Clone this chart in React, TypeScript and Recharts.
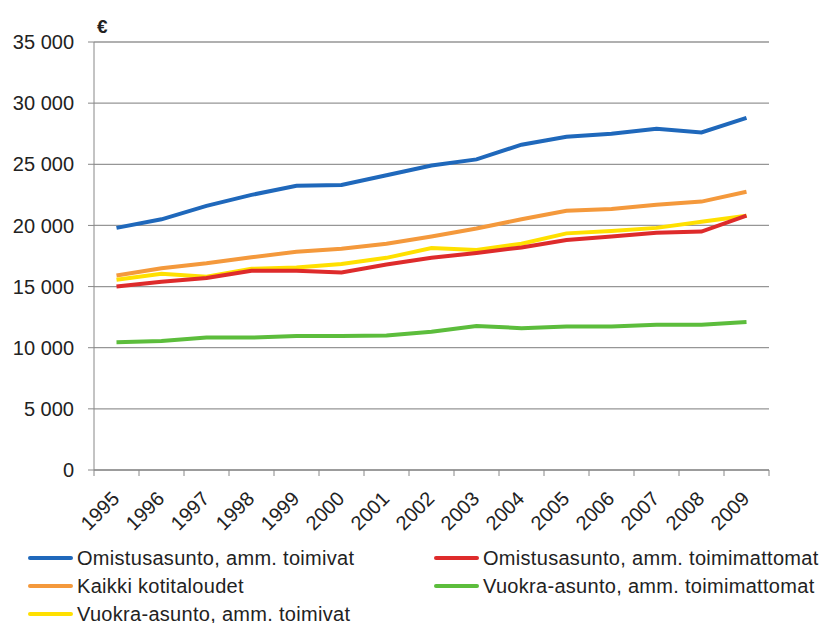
import { LineChart, Line, XAxis, YAxis, CartesianGrid } from 'recharts';

const years = ['1995', '1996', '1997', '1998', '1999', '2000', '2001', '2002', '2003', '2004', '2005', '2006', '2007', '2008', '2009'];

const omistusToimivat = [19800, 20500, 21600, 22500, 23250, 23300, 24100, 24900, 25400, 26600, 27250, 27500, 27900, 27600, 28800];
const omistusToimimattomat = [15000, 15400, 15700, 16300, 16300, 16150, 16800, 17350, 17750, 18200, 18800, 19100, 19400, 19500, 20800];
const kaikki = [15900, 16500, 16900, 17400, 17850, 18100, 18500, 19100, 19750, 20500, 21200, 21350, 21700, 21950, 22750];
const vuokraToimimattomat = [10450, 10550, 10830, 10830, 10960, 10960, 11000, 11300, 11780, 11600, 11730, 11730, 11870, 11870, 12110];
const vuokraToimivat = [15550, 16050, 15800, 16450, 16550, 16850, 17350, 18150, 18000, 18500, 19350, 19550, 19800, 20300, 20800];

const yTicks = [0, 5000, 10000, 15000, 20000, 25000, 30000, 35000];

const series = [
  { key: 'omistusToimivat', name: 'Omistusasunto, amm. toimivat', color: '#1f68bb', values: omistusToimivat },
  { key: 'omistusToimimattomat', name: 'Omistusasunto, amm. toimimattomat', color: '#de2b2b', values: omistusToimimattomat },
  { key: 'kaikki', name: 'Kaikki kotitaloudet', color: '#f4993c', values: kaikki },
  { key: 'vuokraToimimattomat', name: 'Vuokra-asunto, amm. toimimattomat', color: '#5cbd3c', values: vuokraToimimattomat },
  { key: 'vuokraToimivat', name: 'Vuokra-asunto, amm. toimivat', color: '#ffe000', values: vuokraToimivat },
];

// line drawing order: blue, orange, yellow, red, green (red sits over yellow)
const drawOrder = ['omistusToimivat', 'kaikki', 'vuokraToimivat', 'omistusToimimattomat', 'vuokraToimimattomat'];

const data = years.map((year, i) => {
  const row: Record<string, number | string> = { x: i + 0.5, year };
  series.forEach(s => { row[s.key] = s.values[i]; });
  return row;
});

// integer ticks = category borders (tick marks), half ticks = category centres (year labels)
const xTicks: number[] = [];
for (let i = 0; i <= years.length; i++) {
  xTicks.push(i);
  if (i < years.length) xTicks.push(i + 0.5);
}

const font = '"Liberation Sans", Arial, sans-serif';
const textColor = '#222';
const axisColor = '#888';

const formatThousands = (v: number) => v.toLocaleString('en-US').replace(/,/g, ' ');

const XTick = ({ x, y, payload }: any) => {
  const v = payload.value as number;
  if (Number.isInteger(v)) {
    return <line x1={x} y1={y} x2={x} y2={y + 6} stroke={axisColor} />;
  }
  return (
    <g transform={`translate(${x + 4},${y + 30})`}>
      <text textAnchor="end" transform="rotate(-45)" fontSize={20} fill={textColor} fontFamily={font}>
        {years[Math.floor(v)]}
      </text>
    </g>
  );
};

export default function App() {
  return (
    <div style={{ position: 'relative', width: 821, height: 615, fontFamily: font }}>
      <span style={{ position: 'absolute', left: 89, top: 8, fontSize: 19, fontWeight: 'bold', color: textColor }}>€</span>
      <LineChart
        width={821}
        height={540}
        data={data}
        margin={{ top: 34, right: 60, left: 6, bottom: 18 }}
      >
        <CartesianGrid vertical={false} stroke="#969696" strokeWidth={1.3} />
        <XAxis
          type="number"
          dataKey="x"
          domain={[0, years.length]}
          ticks={xTicks}
          tick={<XTick />}
          tickLine={false}
          tickSize={0}
          tickMargin={0}
          axisLine={{ stroke: axisColor }}
          interval={0}
          height={60}
        />
        <YAxis
          domain={[0, 35000]}
          ticks={yTicks}
          tickFormatter={formatThousands}
          width={80}
          tickSize={6}
          tickMargin={14}
          tickLine={{ stroke: axisColor }}
          axisLine={{ stroke: axisColor }}
          tick={{ fill: textColor, fontSize: 20, fontFamily: font }}
        />
        {drawOrder.map(k => {
          const s = series.find(d => d.key === k)!;
          return (
            <Line
              key={s.key}
              type="linear"
              dataKey={s.key}
              name={s.name}
              stroke={s.color}
              strokeWidth={4}
              dot={false}
              activeDot={false}
              isAnimationActive={false}
            />
          );
        })}
      </LineChart>
      <div
        style={{
          position: 'absolute',
          left: 20,
          top: 536,
          display: 'grid',
          gridTemplateColumns: '406px 400px',
          gridAutoRows: '28px',
          fontSize: 20,
          letterSpacing: 0.3,
          color: textColor,
        }}
      >
        {series.map(s => (
          <div key={s.key} style={{ display: 'flex', alignItems: 'center', whiteSpace: 'nowrap' }}>
            <span style={{ display: 'inline-block', width: 45, height: 4, background: s.color, marginRight: 4, borderRadius: 2 }} />
            {s.name}
          </div>
        ))}
      </div>
    </div>
  );
}
